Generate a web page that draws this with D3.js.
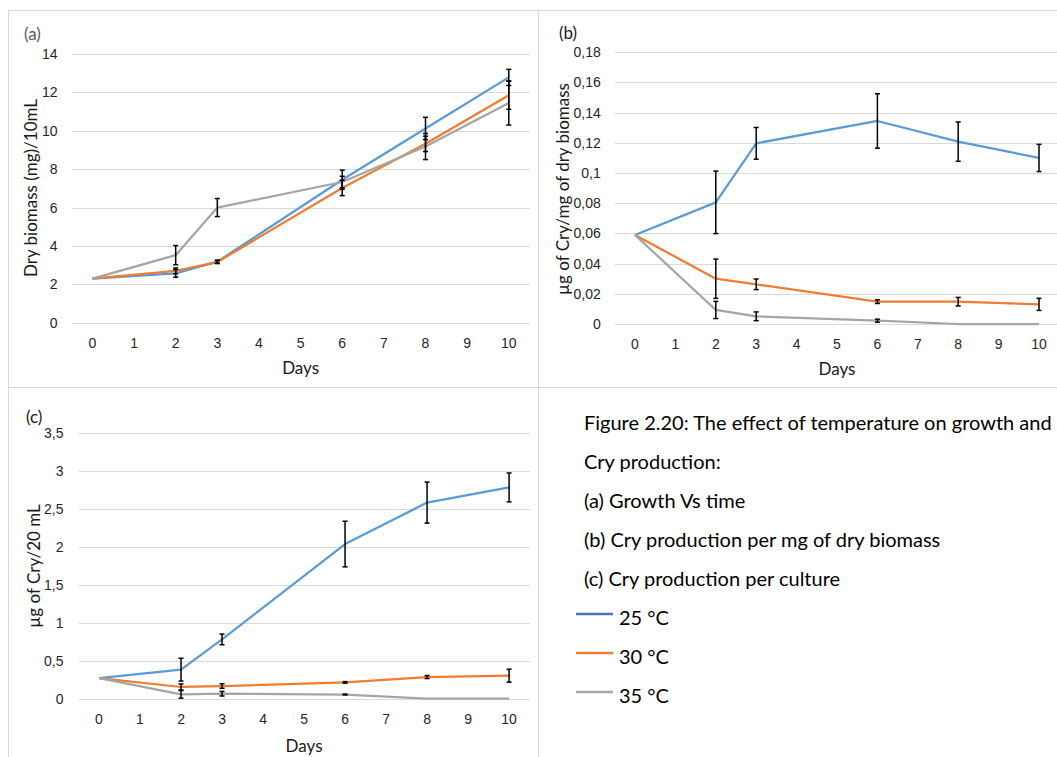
<!DOCTYPE html>
<html>
<head>
<meta charset="utf-8">
<script src="https://cdn.jsdelivr.net/npm/d3@7"></script>
<style>
  html, body { margin: 0; padding: 0; background: #fff; }
  svg { display: block; font-family: Lato, "Open Sans", sans-serif; }
</style>
</head>
<body>
<svg id="chart" width="1057" height="757"></svg>
<script>
// ---------- DATA ----------
const categories = ["0","1","2","3","4","5","6","7","8","9","10"];
const days = ["0","2","3","6","8","10"];
const seriesNames = ["25 °C", "30 °C", "35 °C"];

// (a) Dry biomass (mg)/10mL
const a25 = [2.3, 2.57, 3.18, 7.45, 10.12, 12.78];
const a30 = [2.3, 2.70, 3.16, 7.02, 9.32, 11.85];
const a35 = [2.3, 3.52, 6.00, 7.33, 9.18, 11.45];
const a25err = [0, 0.20, 0.08, 0.50, 0.58, 0.42];
const a30err = [0, 0.15, 0.08, 0.40, 0.40, 0.73];
const a35err = [0, 0.50, 0.47, 0.30, 0.68, 1.15];

// (b) µg of Cry/mg of dry biomass
const b25 = [0.059, 0.0806, 0.1197, 0.1345, 0.1208, 0.110];
const b30 = [0.059, 0.030, 0.0263, 0.0148, 0.0148, 0.013];
const b35 = [0.059, 0.0093, 0.0051, 0.0022, 0, 0];
const b25err = [0, 0.0207, 0.0105, 0.018, 0.013, 0.009];
const b30err = [0, 0.013, 0.0035, 0.0012, 0.0028, 0.004];
const b35err = [0, 0.0057, 0.0029, 0.001, 0, 0];

// (c) µg of Cry/20 mL
const c25 = [0.272, 0.382, 0.78, 2.035, 2.58, 2.78];
const c30 = [0.272, 0.154, 0.167, 0.215, 0.285, 0.303];
const c35 = [0.272, 0.057, 0.066, 0.055, 0, 0];
const c25err = [0, 0.15, 0.07, 0.30, 0.27, 0.19];
const c30err = [0, 0.04, 0.03, 0.01, 0.02, 0.085];
const c35err = [0, 0.05, 0.03, 0.005, 0, 0];

// tick values and labels
const aTicks = [0, 2, 4, 6, 8, 10, 12, 14];
const aTickLabels = ["0","2","4","6","8","10","12","14"];
const bTicks = [0, 0.02, 0.04, 0.06, 0.08, 0.1, 0.12, 0.14, 0.16, 0.18];
const bTickLabels = ["0","0,02","0,04","0,06","0,08","0,1","0,12","0,14","0,16","0,18"];
const cTicks = [0, 0.5, 1, 1.5, 2, 2.5, 3, 3.5];
const cTickLabels = ["0","0,5","1","1,5","2","2,5","3","3,5"];

const captionLines = [
  "Figure 2.20: The effect of temperature on growth and",
  "Cry production:",
  "(a) Growth Vs time",
  "(b) Cry production per mg of dry biomass",
  "(c) Cry production per culture"
];

// ---------- STYLE ----------
const colors = ["#5B9BD5", "#ED7D31", "#A5A5A5"];
const legendColors = ["#4472C4", "#ED7D31", "#A5A5A5"];
const gridColor = "#D9D9D9";
const textColor = "#262626";

const svg = d3.select("#chart");

// panel borders
const borderG = svg.append("g").attr("stroke", "#D9D9D9").attr("stroke-width", 1).attr("shape-rendering", "crispEdges");
borderG.append("line").attr("x1", 8).attr("x2", 1057).attr("y1", 10.5).attr("y2", 10.5);
borderG.append("line").attr("x1", 8).attr("x2", 1057).attr("y1", 387.5).attr("y2", 387.5);
borderG.append("line").attr("x1", 8.5).attr("x2", 8.5).attr("y1", 10).attr("y2", 757);
borderG.append("line").attr("x1", 538.5).attr("x2", 538.5).attr("y1", 10).attr("y2", 757);

function panel(cfg) {
  const g = svg.append("g");
  const x = d3.scaleBand().domain(categories).range([cfg.x0, cfg.x1]);
  const y = d3.scaleLinear().domain([0, cfg.yMax]).range([cfg.yBottom, cfg.yTop]);
  const cx = d => x(d) + x.bandwidth() / 2;

  // y grid + labels
  const labelMap = new Map(cfg.ticks.map((t, i) => [t, cfg.tickLabels[i]]));
  const yAxis = g.append("g").attr("transform", `translate(${cfg.x0},0)`)
    .call(d3.axisLeft(y).tickValues(cfg.ticks).tickSize(-(cfg.x1 - cfg.x0)).tickPadding(cfg.yPad)
      .tickFormat(t => labelMap.get(t)));
  yAxis.select(".domain").remove();
  yAxis.selectAll(".tick line").attr("stroke", gridColor).attr("stroke-width", 1).attr("shape-rendering", "crispEdges");
  yAxis.selectAll(".tick text").attr("fill", textColor).style("font-size", "14px");

  // x labels
  const xAxis = g.append("g").attr("transform", `translate(0,${cfg.yBottom})`)
    .call(d3.axisBottom(x).tickSize(0).tickPadding(15));
  xAxis.select(".domain").remove();
  xAxis.selectAll(".tick text").attr("fill", textColor).style("font-size", "14px");

  // titles
  g.append("text").attr("x", (cfg.x0 + cfg.x1) / 2 + cfg.daysDx).attr("y", cfg.daysY)
    .attr("text-anchor", "middle").attr("dominant-baseline", "central")
    .attr("fill", "#1a1a1a").style("font-size", "17px").text("Days");
  g.append("text")
    .attr("transform", `translate(${cfg.yTitleX},${cfg.yTitleY}) rotate(-90)`)
    .attr("text-anchor", "middle").attr("dominant-baseline", "central")
    .attr("fill", "#1a1a1a").style("font-size", "17px").text(cfg.yTitle);
  g.append("text").attr("x", cfg.tagX).attr("y", cfg.tagY)
    .attr("dominant-baseline", "central")
    .attr("fill", cfg.tagColor).style("font-size", "17px").text(cfg.tag);

  // series
  const line = d3.line().x(d => cx(d.day)).y(d => y(d.v));
  cfg.series.forEach((s, si) => {
    const pts = days.map((d, i) => ({ day: d, v: s.values[i], e: s.err[i] }));
    g.append("path").datum(pts).attr("fill", "none").attr("stroke", colors[si])
      .attr("stroke-width", 2.25).attr("stroke-linejoin", "round").attr("d", line);
  });
  // error bars
  cfg.series.forEach((s, si) => {
    const pts = days.map((d, i) => ({ day: d, v: s.values[i], e: s.err[i] })).filter(p => p.e > 0);
    const eg = g.append("g").attr("stroke", "#000").attr("stroke-width", 1.5);
    pts.forEach(p => {
      const xc = cx(p.day), yt = y(p.v + p.e), yb = y(Math.max(0, p.v - p.e));
      eg.append("line").attr("x1", xc).attr("x2", xc).attr("y1", yt).attr("y2", yb);
      eg.append("line").attr("x1", xc - 2.5).attr("x2", xc + 2.5).attr("y1", yt).attr("y2", yt);
      eg.append("line").attr("x1", xc - 2.5).attr("x2", xc + 2.5).attr("y1", yb).attr("y2", yb);
    });
  });
}

panel({
  x0: 71.6, x1: 529.6, yTop: 54, yBottom: 322.7, yMax: 14,
  ticks: aTicks, tickLabels: aTickLabels, yPad: 14,
  daysY: 367, daysDx: 0,
  yTitle: "Dry biomass (mg)/10mL", yTitleX: 30, yTitleY: 188,
  tag: "(a)", tagX: 24, tagY: 33, tagColor: "#595959",
  series: [{ values: a25, err: a25err }, { values: a30, err: a30err }, { values: a35, err: a35err }]
});

panel({
  x0: 614.8, x1: 1059.2, yTop: 52.3, yBottom: 324, yMax: 0.18,
  ticks: bTicks, tickLabels: bTickLabels, yPad: 14,
  daysY: 368, daysDx: 0,
  yTitle: "µg of Cry/mg of dry biomass", yTitleX: 562, yTitleY: 189,
  tag: "(b)", tagX: 559, tagY: 32, tagColor: "#1a1a1a",
  series: [{ values: b25, err: b25err }, { values: b30, err: b30err }, { values: b35, err: b35err }]
});

panel({
  x0: 78.5, x1: 529.6, yTop: 432.7, yBottom: 698.7, yMax: 3.5,
  ticks: cTicks, tickLabels: cTickLabels, yPad: 15,
  daysY: 745, daysDx: 0,
  yTitle: "µg of Cry/20 mL", yTitleX: 33, yTitleY: 566,
  tag: "(c)", tagX: 26, tagY: 416, tagColor: "#1a1a1a",
  series: [{ values: c25, err: c25err }, { values: c30, err: c30err }, { values: c35, err: c35err }]
});

// caption + legend
const cap = svg.append("g").attr("fill", "#000").style("font-size", "20px");
const lineY = [422, 461, 500, 539, 578];
captionLines.forEach((t, i) => {
  cap.append("text").attr("x", 584).attr("y", lineY[i]).attr("dominant-baseline", "central").text(t);
});
const legY = [617, 656, 695];
seriesNames.forEach((n, i) => {
  cap.append("line").attr("x1", 576).attr("x2", 613).attr("y1", legY[i] - 3).attr("y2", legY[i] - 3)
    .attr("stroke", legendColors[i]).attr("stroke-width", 2.5);
  cap.append("text").attr("x", 619).attr("y", legY[i]).attr("dominant-baseline", "central").text(n);
});
</script>
</body>
</html>
